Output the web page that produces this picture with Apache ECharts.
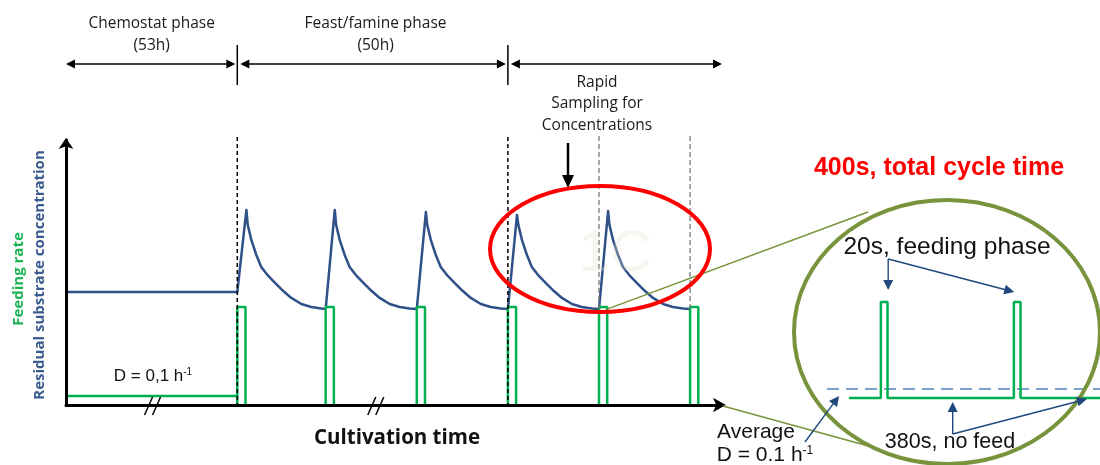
<!DOCTYPE html>
<html>
<head>
<meta charset="utf-8">
<script src="https://cdn.jsdelivr.net/npm/echarts@6/dist/echarts.min.js"></script>
<style>
  html, body { margin: 0; padding: 0; background: #fff; }
  #chart { width: 1100px; height: 465px; }
</style>
</head>
<body>
<div id="chart"></div>
<script>
// main diagram: cultivation time (arbitrary units) vs. level (0-100)
const chemostatEnd = 18.8;
const pulseStarts = [18.8, 28.5, 38.5, 48.5, 58.5, 68.5];
const pulseWidth = 0.9;
const chemostatFeed = 3.4;
const pulseFeed = 37;
const chemostatConc = 42.6;
const famineConc = 36.2;
// one feast/famine cycle: time after pulse start, concentration
const cycleTime = [1.0, 1.15, 1.54, 2.09, 2.63, 3.40, 4.17, 5.05, 5.93, 7.03, 8.12, 9.22];
const cycleConc = [73.6, 67.9, 62.3, 56.6, 52.1, 48.7, 46.0, 43.0, 40.4, 38.1, 37.0, 36.4];
const cyclePeak = [73.6, 73.6, 72.8, 71.7, 73.2];

// zoomed inset: seconds vs. relative feed
const insetTime = [-96, 0, 0, 20, 20, 400, 400, 420, 420, 659];
const insetFeed = [0, 0, 1, 1, 0, 0, 1, 1, 0, 0];
const insetAverage = 0.094;

const BLUE = '#2F5088';
const GREEN = '#00B050';
const OLIVE = '#77933C';
const NAVY = '#1F497D';

// residual substrate concentration
const concData = [[0, chemostatConc], [chemostatEnd, chemostatConc]];
cyclePeak.forEach((peak, i) => {
  const s = pulseStarts[i];
  if (i > 0) concData.push([s, famineConc]);
  cycleTime.forEach((t, j) => {
    concData.push([s + t, j === 0 ? peak : cycleConc[j]]);
  });
});
concData.push([pulseStarts[5], famineConc]);

// feeding rate
const feedData = [[0, chemostatFeed], [chemostatEnd, chemostatFeed], null];
pulseStarts.forEach(s => {
  feedData.push([s, 0], [s, pulseFeed], [s + pulseWidth, pulseFeed], [s + pulseWidth, 0], null);
});

const insetData = insetTime.map((t, i) => [t, insetFeed[i]]);

const chart = echarts.init(document.getElementById('chart'));

const axisBase = {
  type: 'value',
  axisTick: { show: false },
  axisLabel: { show: false },
  splitLine: { show: false }
};

chart.setOption({
  animation: false,
  backgroundColor: '#fff',
  grid: [
    { left: 66, top: 140, width: 656, height: 265 },
    { left: 827, top: 302, width: 273, height: 96 }
  ],
  xAxis: [
    Object.assign({}, axisBase, {
      gridIndex: 0, min: 0, max: 72, z: 5,
      axisLine: { show: true, symbol: ['none', 'arrow'], symbolSize: [11, 13], symbolOffset: [0, 4], lineStyle: { color: '#000', width: 3 } }
    }),
    Object.assign({}, axisBase, { gridIndex: 1, min: -162, max: 659, axisLine: { show: false } })
  ],
  yAxis: [
    Object.assign({}, axisBase, {
      gridIndex: 0, min: 0, max: 100, z: 5,
      axisLine: { show: true, onZero: false, symbol: ['none', 'arrow'], symbolSize: [11, 11], symbolOffset: [0, 2], lineStyle: { color: '#000', width: 3 } }
    }),
    Object.assign({}, axisBase, { gridIndex: 1, min: 0, max: 1, axisLine: { show: false } })
  ],
  series: [
    {
      type: 'line', name: 'Residual substrate concentration',
      xAxisIndex: 0, yAxisIndex: 0,
      data: concData, showSymbol: false, clip: false,
      lineStyle: { color: BLUE, width: 2.5, join: 'round' }
    },
    {
      type: 'line', name: 'Feeding rate',
      xAxisIndex: 0, yAxisIndex: 0,
      data: feedData, showSymbol: false, connectNulls: false, clip: false,
      lineStyle: { color: GREEN, width: 2.5 }
    },
    {
      type: 'line', name: 'Average',
      xAxisIndex: 1, yAxisIndex: 1,
      data: [[-162, insetAverage], [659, insetAverage]], showSymbol: false,
      lineStyle: { color: '#4F81BD', width: 1.6, type: [12, 7] }
    },
    {
      type: 'line', name: 'Inset feed',
      xAxisIndex: 1, yAxisIndex: 1,
      data: insetData, showSymbol: false, clip: false,
      lineStyle: { color: GREEN, width: 2.5 }
    }
  ]
});

function px(x, y) { return chart.convertToPixel({ gridIndex: 0 }, [x, y]); }
function ipx(x, y) { return chart.convertToPixel({ gridIndex: 1 }, [x, y]); }

function arrowHead(x1, y1, x2, y2, color, len, half) {
  const a = Math.atan2(y2 - y1, x2 - x1);
  const c = Math.cos(a), s = Math.sin(a);
  return {
    type: 'polygon', z: 120,
    shape: { points: [[x2, y2], [x2 - len * c - half * s, y2 - len * s + half * c], [x2 - len * c + half * s, y2 - len * s - half * c]] },
    style: { fill: color }
  };
}
function arrow(x1, y1, x2, y2, color, width, len, half) {
  const a = Math.atan2(y2 - y1, x2 - x1);
  return [
    { type: 'line', z: 120, shape: { x1: x1, y1: y1, x2: x2 - len * 0.8 * Math.cos(a), y2: y2 - len * 0.8 * Math.sin(a) }, style: { stroke: color, lineWidth: width } },
    arrowHead(x1, y1, x2, y2, color, len, half)
  ];
}
function dblArrow(x1, x2, y) {
  return [
    arrowHead(x2, y, x1, y, '#000', 9, 4.5),
    arrowHead(x1, y, x2, y, '#000', 9, 4.5),
    { type: 'line', z: 120, shape: { x1: x1 + 6, y1: y, x2: x2 - 6, y2: y }, style: { stroke: '#000', lineWidth: 1.5 } }
  ];
}
function vDash(x, y1, y2, color, w, dash) {
  return { type: 'line', z: 100, shape: { x1: x, y1: y1, x2: x, y2: y2 }, style: { stroke: color, lineWidth: w, lineDash: dash } };
}
function text(str, x, y, opt) {
  return {
    type: 'text', z: 130, x: x, y: y,
    style: Object.assign({ text: str, align: 'center', verticalAlign: 'middle', fill: '#000', font: '15px "Open Sans", sans-serif' }, opt || {})
  };
}

const x0 = px(0, 0)[0];
const xChem = px(chemostatEnd, 0)[0];
const xFeast = px(pulseStarts[3], 0)[0];
const xEnd = px(72, 0)[0];
const yAxisPix = px(0, 0)[1];
const yFamine = px(0, famineConc)[1];
const topY = 64;
const calibri = '"Open Sans", "Lato", sans-serif';
const arial = '"Liberation Sans", Arial, sans-serif';
const topFont = '15.5px ' + calibri;

let g = [];
// phase boundaries and sampling times
g.push(vDash(xChem, 137, yAxisPix, '#000', 1.5, [4, 3]));
g.push(vDash(xFeast, 137, yAxisPix, '#000', 1.5, [4, 3]));
g.push(vDash(px(pulseStarts[4], 0)[0], 136, yFamine, '#777', 1.3, [5, 3]));
g.push(vDash(px(pulseStarts[5], 0)[0], 136, yFamine, '#777', 1.3, [5, 3]));

// phase arrows along the top
g = g.concat(dblArrow(x0, xChem - 2, topY));
g = g.concat(dblArrow(xChem + 3, xFeast - 2, topY));
g = g.concat(dblArrow(xFeast + 3, xEnd, topY));
[xChem, xFeast].forEach(x => {
  g.push({ type: 'line', z: 120, shape: { x1: x, y1: 45, x2: x, y2: 85 }, style: { stroke: '#000', lineWidth: 1.5 } });
});
g.push(text('Chemostat phase', (x0 + xChem) / 2, 24, { font: topFont, fill: '#1a1a1a' }));
g.push(text('(53h)', (x0 + xChem) / 2, 46, { font: topFont, fill: '#1a1a1a' }));
g.push(text('Feast/famine phase', (xChem + xFeast) / 2 + 3, 24, { font: topFont, fill: '#1a1a1a' }));
g.push(text('(50h)', (xChem + xFeast) / 2 + 3, 46, { font: topFont, fill: '#1a1a1a' }));
g.push(text('Rapid', 597, 83, { font: topFont, fill: '#1a1a1a' }));
g.push(text('Sampling for', 597, 104, { font: topFont, fill: '#1a1a1a' }));
g.push(text('Concentrations', 597, 126, { font: topFont, fill: '#1a1a1a' }));
// sampling arrow
g = g.concat(arrow(568, 143, 568, 188, '#000', 2.5, 13, 6));

// faint watermark
g.push(text('1C', 615, 255, { font: '58px ' + arial, fill: 'rgba(225,225,210,0.3)' }));

// y-axis titles
g.push({ type: 'text', z: 130, x: 40, y: 275, rotation: Math.PI / 2,
  style: { text: 'Residual substrate concentration', align: 'center', verticalAlign: 'middle', fill: '#3A5B8F', font: 'bold 15px ' + calibri } });
g.push({ type: 'text', z: 130, x: 19, y: 279, rotation: Math.PI / 2,
  style: { text: 'Feeding rate', align: 'center', verticalAlign: 'middle', fill: '#1DB456', font: 'bold 15px ' + calibri } });

// axis break marks
[px(9.5, 0)[0], px(34, 0)[0]].forEach(x => {
  [-4, 4].forEach(d => {
    g.push({ type: 'line', z: 130, shape: { x1: x + d - 4, y1: yAxisPix + 10, x2: x + d + 4, y2: yAxisPix - 8 }, style: { stroke: '#000', lineWidth: 1.5 } });
  });
});

// chemostat dilution rate
g.push({ type: 'text', z: 130, x: 153, y: 376,
  style: { text: '{a|D = 0,1 h}{s|-1}', align: 'center', verticalAlign: 'middle',
    rich: { a: { font: '17px ' + arial, fill: '#111' }, s: { font: '10px ' + arial, fill: '#111', verticalAlign: 'top', padding: [0, 0, 8, 0] } } } });

g.push(text('Cultivation time', 397, 438, { font: 'bold 20.5px ' + calibri, fill: '#111' }));

// red sampling ellipse
g.push({ type: 'ellipse', z: 110, shape: { cx: 600, cy: 249, rx: 110, ry: 63 }, style: { fill: 'none', stroke: '#FF0000', lineWidth: 4 } });

// zoom connectors and green inset ellipse
const pZoom = px(pulseStarts[4] + pulseWidth, famineConc);
g.push({ type: 'line', z: 105, shape: { x1: pZoom[0], y1: pZoom[1], x2: 868, y2: 212 }, style: { stroke: OLIVE, lineWidth: 1.4 } });
g.push({ type: 'line', z: 105, shape: { x1: xEnd + 1, y1: yAxisPix + 1, x2: 872, y2: 447 }, style: { stroke: OLIVE, lineWidth: 1.4 } });
g.push({ type: 'ellipse', z: 110, shape: { cx: 947, cy: 332, rx: 153, ry: 132 }, style: { fill: 'none', stroke: OLIVE, lineWidth: 4 } });

g.push(text('400s, total cycle time', 939, 168, { font: 'bold 25px ' + arial, fill: '#FF0000' }));
g.push(text('20s, feeding phase', 947, 247, { font: '24.5px ' + arial, fill: '#111' }));
g.push(text('380s, no feed', 950, 442, { font: '21.5px ' + arial, fill: '#111' }));
g.push(text('Average', 756, 432, { font: '21px ' + arial, fill: '#111' }));
g.push({ type: 'text', z: 130, x: 765, y: 455,
  style: { text: '{a|D = 0.1 h}{s|-1}', align: 'center', verticalAlign: 'middle',
    rich: { a: { font: '21px ' + arial, fill: '#111' }, s: { font: '12px ' + arial, fill: '#111', verticalAlign: 'top', padding: [0, 0, 9, 0] } } } });

// inset pointers
const p1 = ipx(10, 1), p2 = ipx(410, 1), pb = ipx(210, 0), pr = ipx(620, 0), pa = ipx(-150, insetAverage);
g = g.concat(arrow(p1[0] + 4, 259, p1[0] + 4, p1[1] - 12, NAVY, 1.4, 10, 5));
g = g.concat(arrow(p1[0] + 4, 259, p2[0] - 3, p2[1] - 10, NAVY, 1.4, 10, 5));
g = g.concat(arrow(pb[0] + 2, 434, pb[0] + 2, pb[1] + 4, NAVY, 1.4, 10, 5));
g = g.concat(arrow(pb[0] + 2, 434, pr[0], pr[1] + 1, NAVY, 1.4, 10, 5));
g = g.concat(arrow(805, 442, pa[0] + 8, pa[1] + 7, NAVY, 1.4, 10, 5));

chart.setOption({ graphic: { elements: g } });
</script>
</body>
</html>
